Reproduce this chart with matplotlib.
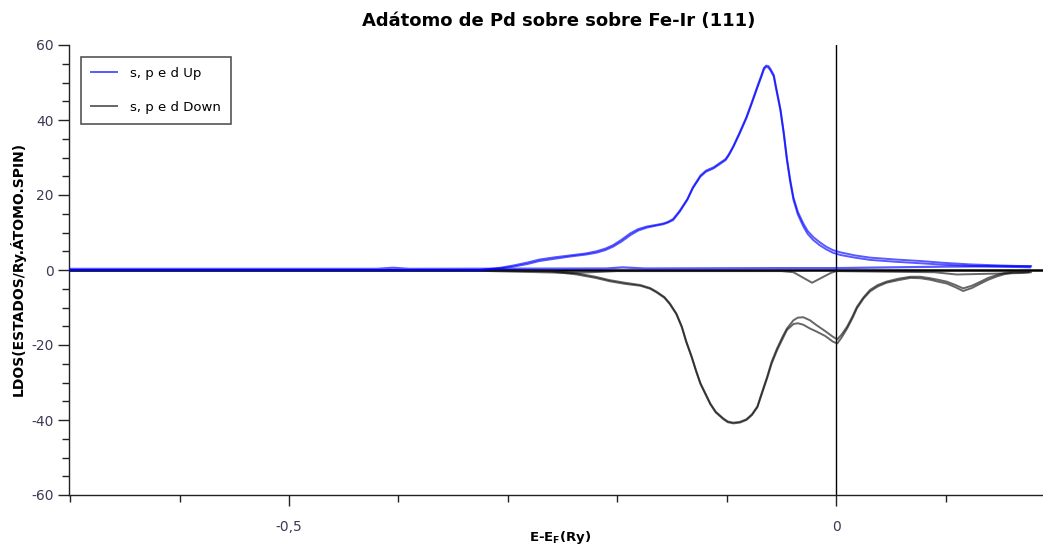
import matplotlib
matplotlib.use("Agg")
import matplotlib.pyplot as plt
from matplotlib.ticker import MultipleLocator, FuncFormatter

plt.rcParams['axes.unicode_minus'] = False
plt.rcParams['font.family'] = ['DejaVu Sans']

title = "Adátomo de Pd sobre sobre Fe-Ir (111)"
xlabel = "E-E$_\\mathbf{F}$(Ry)"
ylabel = "LDOS(ESTADOS/Ry.ÁTOMO.SPIN)"
label_up = "s, p e d Up"
label_dn = "s, p e d Down"

# Spin-up (two nearly coincident curves)
x_up = [-0.700, -0.325, -0.307, -0.295, -0.282, -0.271, -0.257, -0.243, -0.229, -0.219,
        -0.211, -0.204, -0.196, -0.188, -0.181, -0.173, -0.165, -0.158, -0.154, -0.149,
        -0.143, -0.136, -0.131, -0.124, -0.119, -0.112, -0.107, -0.101, -0.098, -0.094,
        -0.088, -0.082, -0.077, -0.072, -0.068, -0.066, -0.064, -0.062, -0.060, -0.057,
        -0.055, -0.051, -0.048, -0.045, -0.042, -0.039, -0.035, -0.030, -0.026, -0.021,
        -0.015, -0.009, -0.003, 0.004, 0.017, 0.031, 0.054, 0.077, 0.099, 0.122,
        0.150, 0.177]
up_a = [0.0, 0.0, 0.4, 0.9, 1.6, 2.4, 3.0, 3.6, 4.1, 4.6,
        5.3, 6.2, 7.6, 9.3, 10.5, 11.3, 11.8, 12.2, 12.6, 13.3,
        15.5, 18.7, 21.8, 24.9, 26.2, 27.1, 28.1, 29.3, 30.6, 32.8,
        36.5, 40.5, 44.5, 48.6, 51.8, 53.5, 54.2, 54.0, 53.2, 51.6,
        48.5, 42.7, 36.5, 29.3, 23.5, 18.7, 14.8, 11.6, 9.6, 8.0,
        6.6, 5.5, 4.6, 4.0, 3.3, 2.7, 2.2, 1.8, 1.4, 1.1,
        0.9, 0.7]
up_b = [0.0, 0.0, 0.6, 1.2, 2.0, 2.8, 3.4, 3.9, 4.4, 5.0,
        5.7, 6.6, 8.1, 9.8, 10.9, 11.6, 12.0, 12.4, 12.8, 13.6,
        15.8, 18.9, 22.0, 25.2, 26.5, 27.4, 28.4, 29.6, 30.9, 33.0,
        36.8, 40.8, 44.8, 49.0, 52.2, 53.9, 54.5, 54.4, 53.6, 52.0,
        48.9, 43.0, 37.0, 29.8, 24.1, 19.3, 15.5, 12.4, 10.4, 8.8,
        7.4, 6.2, 5.3, 4.7, 3.9, 3.3, 2.8, 2.4, 1.9, 1.5,
        1.2, 1.0]
# near-zero spin-up contribution
x_up_c = [-0.700, -0.420, -0.405, -0.390, -0.210, -0.195, -0.175, -0.050, 0.000, 0.050,
          0.100, 0.150, 0.178]
up_c = [0.3, 0.3, 0.6, 0.3, 0.4, 0.7, 0.4, 0.5, 0.5, 0.7,
        0.9, 1.0, 1.0]

# Spin-down (two nearly coincident curves)
x_dn = [-0.700, -0.307, -0.261, -0.237, -0.220, -0.207, -0.193, -0.179, -0.170, -0.164,
        -0.157, -0.152, -0.146, -0.141, -0.137, -0.132, -0.128, -0.124, -0.119, -0.115,
        -0.110, -0.103, -0.099, -0.094, -0.088, -0.082, -0.077, -0.072, -0.068, -0.063,
        -0.059, -0.054, -0.049, -0.045, -0.039, -0.035, -0.030, -0.024, -0.018, -0.010,
        -0.003, 0.001, 0.005, 0.010, 0.015, 0.019, 0.025, 0.031, 0.038, 0.046,
        0.057, 0.068, 0.077, 0.086, 0.093, 0.101, 0.109, 0.116, 0.124, 0.132,
        0.139, 0.147, 0.154, 0.162, 0.176]
dn_a = [0.0, 0.0, -0.2, -0.9, -1.8, -2.7, -3.4, -4.0, -4.8, -5.8,
        -7.2, -8.9, -11.6, -15.1, -19.0, -23.1, -26.8, -30.2, -33.2, -35.6,
        -37.8, -39.6, -40.4, -40.7, -40.5, -39.8, -38.5, -36.4, -32.8, -28.4,
        -24.5, -20.9, -17.8, -15.6, -13.4, -12.7, -12.6, -13.4, -14.7, -16.3,
        -17.8, -18.5, -17.2, -15.1, -12.3, -9.8, -7.3, -5.3, -4.0, -3.1,
        -2.3, -1.8, -1.8, -2.2, -2.6, -3.1, -4.0, -4.9, -4.2, -3.1,
        -2.1, -1.3, -0.8, -0.4, -0.4]
dn_b = [0.0, 0.0, -0.4, -1.2, -2.1, -3.0, -3.7, -4.2, -5.0, -6.0,
        -7.4, -9.1, -11.8, -15.3, -19.2, -23.3, -27.0, -30.4, -33.4, -35.8,
        -38.0, -39.8, -40.6, -40.9, -40.7, -40.0, -38.7, -36.6, -33.1, -28.8,
        -25.0, -21.4, -18.4, -16.0, -14.4, -14.2, -14.6, -15.6, -16.4, -17.6,
        -19.1, -19.6, -18.0, -15.6, -12.8, -10.2, -7.6, -5.7, -4.4, -3.4,
        -2.7, -2.1, -2.2, -2.6, -3.1, -3.6, -4.6, -5.6, -4.8, -3.6,
        -2.6, -1.7, -1.1, -0.7, -0.6]
# near-zero spin-down contribution
x_dn_c = [-0.700, -0.330, -0.270, -0.240, -0.200, -0.050, -0.039, -0.022, -0.005, 0.000,
          0.090, 0.110, 0.140, 0.170, 0.178]
dn_c = [-0.2, -0.2, -0.6, -0.8, -0.3, -0.3, -0.6, -3.4, -0.8, -0.3,
        -0.6, -1.2, -1.0, -0.8, -0.6]

fig = plt.figure(figsize=(10.43, 5.52), dpi=100)
ax = fig.add_axes([69 / 1043, 57 / 552, 974 / 1043, 450 / 552])

blue = '#0000ff'
grey = '#151515'
ax.axhline(0, color='black', lw=1.8, zorder=1)
ax.axvline(0, color='black', lw=1.0, zorder=1)

ax.plot(x_up, up_a, color=blue, lw=1.4, alpha=0.65, zorder=3, label=label_up)
ax.plot(x_up, up_b, color=blue, lw=1.4, alpha=0.65, zorder=3)
ax.plot(x_up_c, up_c, color=blue, lw=1.6, alpha=0.65, zorder=3)
ax.plot(x_dn, dn_a, color=grey, lw=1.4, alpha=0.65, zorder=2, label=label_dn)
ax.plot(x_dn, dn_b, color=grey, lw=1.4, alpha=0.65, zorder=2)
ax.plot(x_dn_c, dn_c, color=grey, lw=1.4, alpha=0.65, zorder=2)

ax.set_xlim(-0.701, 0.189)
ax.set_ylim(-60, 60)

for s in ['top', 'right']:
    ax.spines[s].set_visible(False)
for s in ['left', 'bottom']:
    ax.spines[s].set_linewidth(1.0)
    ax.spines[s].set_color('#222222')

ax.xaxis.set_major_locator(MultipleLocator(0.5))
ax.xaxis.set_minor_locator(MultipleLocator(0.1))
ax.yaxis.set_major_locator(MultipleLocator(20))
ax.yaxis.set_minor_locator(MultipleLocator(5))

def fmt_x(v, pos):
    if abs(v) < 1e-9:
        return "0"
    return ("%g" % v).replace('.', ',')

ax.xaxis.set_major_formatter(FuncFormatter(fmt_x))
ax.yaxis.set_major_formatter(FuncFormatter(lambda v, p: "%d" % round(v)))

tick_color = '#3a3a55'
ax.tick_params(axis='both', which='major', length=8, width=1.0, color='#222222',
               labelsize=10, labelcolor=tick_color)
ax.tick_params(axis='both', which='minor', length=5, width=1.0, color='#222222')
ax.tick_params(axis='x', which='major', pad=10)
ax.tick_params(axis='y', which='major', pad=3)

fig.text(0.536, 0.962, title, ha='center', va='center', fontsize=13, fontweight='bold')
fig.text(0.537, 0.026, xlabel, ha='center', va='center', fontsize=9.5, fontweight='bold')
fig.text(0.017, 0.513, ylabel, ha='center', va='center', rotation=90, fontsize=10,
         fontweight='bold')

leg = ax.legend(loc='upper left', bbox_to_anchor=(0.0123, 0.9733), borderaxespad=0,
                fontsize=9.5, fancybox=False, framealpha=1, edgecolor='#555555',
                handlelength=2.0, labelspacing=1.6, borderpad=0.75, handletextpad=1.0)
leg.get_frame().set_linewidth(1.2)

fig.savefig('out.png', dpi=100)
